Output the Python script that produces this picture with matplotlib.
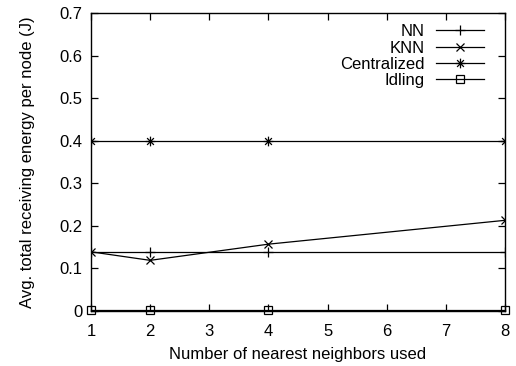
import numpy as np
import matplotlib
matplotlib.use('Agg')
import matplotlib.pyplot as plt
from matplotlib.path import Path

plt.rcParams['font.family'] = ['Liberation Sans', 'DejaVu Sans']
plt.rcParams['font.size'] = 12

# 데이터
neighbors = [1, 2, 4, 8]
nn = [0.139, 0.139, 0.139, 0.139]
knn = [0.139, 0.119, 0.157, 0.213]
centralized = [0.4, 0.4, 0.4, 0.4]
idling = [0.003, 0.003, 0.003, 0.003]

# gnuplot 스타일 별표 마커 (+ 와 x 겹친 모양)
star_verts = [(-1, 0), (1, 0), (0, -1), (0, 1),
              (-0.7, -0.7), (0.7, 0.7), (-0.7, 0.7), (0.7, -0.7)]
star_codes = [Path.MOVETO, Path.LINETO] * 4
star = Path(star_verts, star_codes)

fig = plt.figure(figsize=(5.16, 3.66), dpi=100)
ax = fig.add_axes([91 / 516, 55 / 366, 414 / 516, 298 / 366])

lw = 0.9
ax.plot(neighbors, nn, color='black', lw=lw, marker='+', ms=7, mew=lw, label='NN')
ax.plot(neighbors, knn, color='black', lw=lw, marker='x', ms=6, mew=lw, label='KNN')
ax.plot(neighbors, centralized, color='black', lw=lw, marker=star, ms=7, mew=lw, label='Centralized')
ax.plot(neighbors, idling, color='black', lw=lw, marker='s', ms=6, mew=lw,
        fillstyle='none', label='Idling', clip_on=False)

ax.set_xlim(1, 8)
ax.set_ylim(0, 0.7)
ax.set_xticks(range(1, 9))
ax.set_yticks(np.arange(0, 0.71, 0.1))
ax.set_yticklabels(['0', '0.1', '0.2', '0.3', '0.4', '0.5', '0.6', '0.7'])
ax.tick_params(direction='in', length=5, width=0.9, top=True, right=True)
ax.tick_params(axis='x', pad=9)
ax.tick_params(axis='y', pad=6)
for s in ax.spines.values():
    s.set_linewidth(1.0)

ax.set_xlabel('Number of nearest neighbors used', labelpad=6)
ax.set_ylabel('Avg. total receiving energy per node (J)', labelpad=18)

ax.legend(loc='upper right', bbox_to_anchor=(0.949, 0.962), frameon=False,
          markerfirst=False, handlelength=2.9, handletextpad=0.66,
          labelspacing=0.08, borderpad=0, borderaxespad=0)

fig.savefig('out.png', dpi=100)
